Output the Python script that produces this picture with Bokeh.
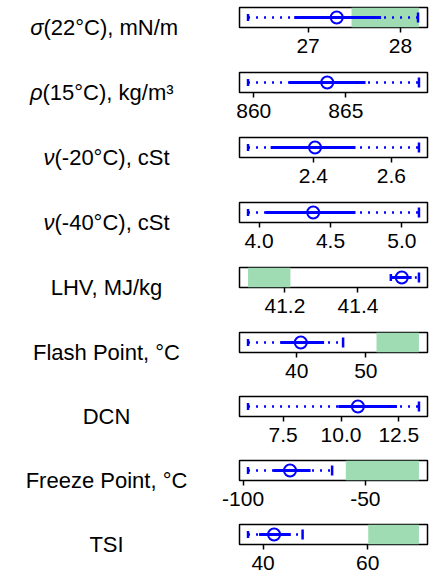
import math
from bokeh.plotting import figure
from bokeh.models import Range1d, FixedTicker, NumeralTickFormatter, BoxAnnotation
from bokeh.core.properties import value
from bokeh.layouts import column, row
from bokeh.embed import file_html
from bokeh.resources import INLINE

# ---- data ----
symbols = ["σ", "ρ", "ν", "ν", "", "", "", "", ""]
names = ["(22°C), mN/m", "(15°C), kg/m³", "(-20°C), cSt", "(-40°C), cSt",
         "LHV, MJ/kg", "Flash Point, °C", "DCN", "Freeze Point, °C", "TSI"]
mins  = [26.35, 859.69, 2.232, 3.923, 41.49, 32.94, 5.98, -97.96, 37.12]
lows  = [26.85, 861.92, 2.290, 4.047, 41.49, 37.68, 9.88, -87.6, 39.23]
means = [27.31, 863.99, 2.404, 4.379, 41.52, 40.58, 10.73, -80.8, 42.1]
highs = [27.79, 866.07, 2.508, 4.675, 41.547, 43.96, 12.42, -72.4, 45.3]
maxs  = [28.19, 868.97, 2.671, 5.119, 41.567, 46.71, 13.37, -63.6, 47.55]
spec_lo = [27.47, None, None, None, 41.099, 51.55, None, -58.0, 60.1]
spec_hi = [28.20, None, None, None, 41.215, 57.7, None, -28.1, 69.8]
ticks = [[27, 28], [860, 865], [2.4, 2.6], [4.0, 4.5, 5.0], [41.2, 41.4],
         [40, 50], [7.5, 10.0, 12.5], [-100, -50], [40, 60]]
tick_fmt = ["0", "0", "0.0", "0.0", "0.0", "0", "0.0", "0", "0"]

# ---- layout / style ----
BLUE = "#0000ff"
GREEN = "#9fdcb4"
FONT = "Liberation Sans"
heights = [65, 65, 65, 65, 65, 64, 64, 64, 62]
TOTAL_H = sum(heights)
TOP = 7                # space above each box
BOX_H = 20             # height of each box
LABEL_W = 200          # width of the label column
DATA_W = 236           # width of each data figure
DATA_BORDER_LEFT = 39  # space left of the frame for overflowing tick labels
DATA_BORDER_RIGHT = 9
LABEL_DROP = 0         # label baseline position below the box bottom
split_x = [43, 42, 54, 54, None, None, None, None, None]
center_x = 106

# --- one tall figure holding all row labels (units = pixels, y from bottom) ---
lf = figure(width=LABEL_W, height=TOTAL_H, x_range=Range1d(0, LABEL_W),
            y_range=Range1d(0, TOTAL_H), output_backend="svg",
            toolbar_location=None, min_border=0)
lf.axis.visible = False
lf.grid.visible = False
lf.outline_line_color = None
kw = dict(text_font=value(FONT), text_font_size="22px",
          text_baseline="alphabetic", text_color="black")

figs = []
top_px = 0
for i in range(9):
    h = heights[i]
    base_y = TOTAL_H - (top_px + TOP + BOX_H + LABEL_DROP)
    if symbols[i]:
        lf.text(x=[split_x[i]], y=[base_y], text=[symbols[i]],
                text_font_style="italic", text_align="right", **kw)
        lf.text(x=[split_x[i]], y=[base_y], text=[names[i]],
                text_align="left", **kw)
    else:
        lf.text(x=[center_x], y=[base_y], text=[names[i]],
                text_align="center", **kw)
    top_px += h

    # --- data figure ---
    lo = mins[i] if spec_lo[i] is None else min(mins[i], spec_lo[i])
    hi = maxs[i] if spec_hi[i] is None else max(maxs[i], spec_hi[i])
    pad = 0.05 * (hi - lo)
    xr = Range1d(lo - pad, hi + pad)
    p = figure(width=DATA_W, height=h, x_range=xr, y_range=Range1d(-1, 1),
               output_backend="svg", toolbar_location=None,
               min_border_left=DATA_BORDER_LEFT, min_border_right=DATA_BORDER_RIGHT,
               min_border_top=TOP, min_border_bottom=h - TOP - BOX_H)
    p.yaxis.visible = False
    p.grid.visible = False
    p.outline_line_color = "black"
    p.outline_line_width = 1.5
    p.background_fill_color = "white"
    p.border_fill_color = "white"

    ax = p.xaxis[0]
    ax.ticker = FixedTicker(ticks=ticks[i])
    ax.formatter = NumeralTickFormatter(format=tick_fmt[i])
    ax.axis_line_color = None
    ax.major_tick_line_color = "black"
    ax.major_tick_line_width = 1.5
    ax.major_tick_out = 5
    ax.major_tick_in = 0
    ax.minor_tick_line_color = None
    ax.major_label_text_font = FONT
    ax.major_label_text_font_size = "21px"
    ax.major_label_text_color = "black"
    ax.major_label_standoff = 6

    if spec_lo[i] is not None:
        p.add_layout(BoxAnnotation(left=spec_lo[i], right=spec_hi[i],
                                   fill_color=GREEN, fill_alpha=1.0,
                                   line_color=None, level="underlay"))

    p.segment(x0=[mins[i]], y0=[0], x1=[maxs[i]], y1=[0], line_color=BLUE,
              line_width=2.5, line_dash="2 6")
    p.segment(x0=[lows[i]], y0=[0], x1=[highs[i]], y1=[0], line_color=BLUE,
              line_width=3)
    p.scatter(x=[mins[i]], y=[0], marker="dash", angle=math.pi / 2, size=7,
              line_color=BLUE, line_width=2.5)
    p.scatter(x=[maxs[i]], y=[0], marker="dash", angle=math.pi / 2, size=10,
              line_color=BLUE, line_width=2.5)
    p.scatter(x=[means[i]], y=[0], marker="circle", size=12, fill_color=None,
              line_color=BLUE, line_width=2)
    figs.append(p)

layout = row(lf, column(*figs, spacing=0), spacing=0)
open("out.html", "w").write(file_html(layout, INLINE))
